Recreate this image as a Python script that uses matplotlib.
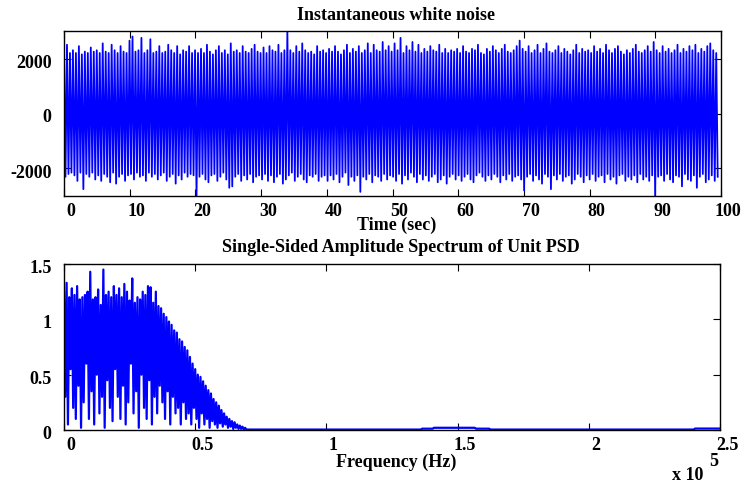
import numpy as np
import matplotlib
matplotlib.use("Agg")
import matplotlib.pyplot as plt
import matplotlib.transforms as mtransforms

# turning points of the noise trace, upper and lower swings (10 s per row)
noise_high = [
    2250, 2500, 2200, 2300, 2200, 2450, 2150, 2250, 2200, 2400, 2250, 2300, 2200, 2550, 2250, 2200, 2500, 2300, 2200, 2450, 2250, 2200,
    2650, 2800, 2250, 2300, 2750, 2200, 2300, 2700, 2200, 2250, 2450, 2200, 2250, 2500, 2300, 2200, 2450, 2150, 2300, 2250, 2450, 2200,
    2300, 2200, 2350, 2200, 2500, 2250, 2150, 2300, 2450, 2200, 2300, 2150, 2550, 2250, 2300, 2200, 2450, 2250, 2200, 2350, 2500, 2250,
    2200, 2400, 2200, 2450, 2300, 2250, 2500, 2200, 2300, 3000, 2300, 2200, 2450, 2250, 2550, 2300, 2200, 2250, 2150, 2450, 2250, 2300,
    2200, 2350, 2250, 2450, 2250, 2150, 2300, 2500, 2200, 2350, 2250, 2450, 2200, 2300, 2550, 2200, 2500, 2300, 2250, 2600, 2300, 2450,
    2250, 2550, 2300, 2750, 2200, 2450, 2300, 2600, 2250, 2500, 2200, 2350, 2250, 2450, 2300, 2250, 2500, 2200, 2350, 2200, 2300, 2250,
    2350, 2200, 2450, 2250, 2200, 2350, 2300, 2500, 2200, 2150, 2350, 2250, 2450, 2300, 2200, 2350, 2500, 2250, 2200, 2300, 2450, 2650,
    2350, 2250, 2450, 2200, 2300, 2500, 2200, 2350, 2550, 2250, 2200, 2300, 2450, 2200, 2350, 2250, 2150, 2300, 2500, 2200, 2350, 2250,
    2300, 2200, 2450, 2250, 2350, 2200, 2500, 2300, 2200, 2350, 2450, 2250, 2150, 2300, 2200, 2350, 2500, 2250, 2200, 2300, 2450, 2250,
    2600, 2300, 2200, 2450, 2250, 2350, 2200, 2300, 2500, 2200, 2350, 2250, 2450, 2300, 2500, 2200, 2350, 2250, 2450, 2550, 2300, 2200,
]
noise_low = [
    -2300, -2200, -2150, -2250, -2450, -2150, -2750, -2200, -2300, -2150, -2400, -2250, -2450, -2200, -2300, -2500, -2150, -2550, -2300, -2200, -2450, -2250,
    -2200, -2400, -2150, -2300, -2250, -2450, -2150, -2300, -2200, -2400, -2250, -2150, -2450, -2300, -2200, -2550, -2250, -2400, -2150, -2300, -2200, -2250,
    -3000, -2300, -2200, -2400, -2500, -2250, -2200, -2450, -2300, -2150, -2400, -2700, -2650, -2300, -2200, -2450, -2250, -2400, -2200, -2500, -2300, -2250,
    -2400, -2200, -2450, -2250, -2500, -2300, -2200, -2550, -2400, -2250, -2150, -2450, -2300, -2200, -2400, -2500, -2250, -2300, -2200, -2450, -2300, -2250,
    -2450, -2250, -2400, -2200, -2500, -2300, -2150, -2600, -2300, -2450, -2250, -2850, -2300, -2400, -2200, -2500, -2250, -2300, -2450, -2200, -2400, -2250,
    -2300, -2450, -2200, -2550, -2250, -2400, -2150, -2300, -2500, -2200, -2400, -2250, -2450, -2300, -2200, -2500, -2400, -2250, -2550, -2300, -2200, -2400,
    -2250, -2450, -2300, -2200, -2400, -2500, -2250, -2150, -2300, -2450, -2250, -2400, -2200, -2300, -2500, -2250, -2400, -2200, -2450, -2300, -2250, -2400,
    -2800, -2300, -2200, -2450, -2250, -2400, -2550, -2200, -2300, -2750, -2250, -2400, -2200, -2450, -2300, -2250, -2550, -2400, -2200, -2300, -2500, -2250,
    -2400, -2200, -2450, -2300, -2250, -2500, -2200, -2400, -2300, -2550, -2250, -2200, -2450, -2300, -2400, -2250, -2500, -2200, -2400, -2300, -2450, -2250,
    -3000, -2300, -2250, -2450, -2200, -2400, -2500, -2250, -2300, -2650, -2200, -2400, -2450, -2250, -2700, -2300, -2200, -2500, -2400, -2250, -2450, -2300,
]

# spectrum 0..69 kHz: peak and dip of each 1 kHz bin
spec_peaks = [
    1.25, 1.33, 1.20, 1.28, 1.22, 1.30, 1.18, 1.20, 1.22, 1.25,
    1.43, 1.18, 1.20, 1.27, 1.13, 1.45, 1.22, 1.25, 1.20, 1.30,
    1.22, 1.28, 1.20, 1.32, 1.25, 1.17, 1.37, 1.15, 1.20, 1.18,
    1.25, 1.22, 1.30, 1.29, 1.15, 1.25, 1.12,
    1.10, 1.05, 1.02, 0.98, 0.95, 0.90, 0.88, 0.82, 0.80, 0.75,
    0.72, 0.66, 0.60, 0.55, 0.50, 0.48, 0.44, 0.40, 0.36, 0.33,
    0.28, 0.25, 0.22, 0.18, 0.15, 0.12, 0.10, 0.08, 0.07, 0.05,
    0.04, 0.03, 0.02,
]
spec_dips = [
    0.30, 0.05, 0.55, 0.20, 0.10, 0.40, 0.02, 0.25, 0.60, 0.10,
    0.35, 0.05, 0.50, 0.15, 0.30, 0.02, 0.45, 0.20, 0.08, 0.55,
    0.30, 0.10, 0.40, 0.05, 0.25, 0.60, 0.15, 0.35, 0.02, 0.50,
    0.20, 0.10, 0.45, 0.05, 0.30, 0.15, 0.40,
    0.25, 0.10, 0.35, 0.05, 0.30, 0.15, 0.20, 0.05, 0.25, 0.10,
    0.15, 0.05, 0.20, 0.10, 0.02, 0.15, 0.05, 0.10, 0.02, 0.08,
    0.05, 0.02, 0.06, 0.03, 0.05, 0.02, 0.03, 0.01, 0.02, 0.01,
    0.01, 0.005, 0.005,
]
# high-frequency floor with the small bumps
tail_freq = [70000, 136000, 136500, 140500, 141000, 156500, 157000, 162000, 162500, 240000, 240500, 250000]
tail_amp = [0.004, 0.004, 0.012, 0.012, 0.02, 0.02, 0.012, 0.012, 0.004, 0.004, 0.013, 0.013]

plt.rcParams['font.family'] = ['Liberation Serif', 'DejaVu Serif']
plt.rcParams['font.weight'] = 'bold'
plt.rcParams['font.size'] = 13
plt.rcParams['axes.unicode_minus'] = False

W, H = 746, 484
fig = plt.figure(figsize=(W / 100, H / 100), dpi=100)


def px_axes(x0, y0, x1, y1):
    return fig.add_axes([x0 / W, 1 - y1 / H, (x1 - x0) / W, (y1 - y0) / H])


def matlab_style(ax):
    ax.tick_params(direction='in', top=True, right=True, length=5, width=0.8)
    ax.tick_params(axis='x', pad=5)
    ax.tick_params(axis='y', pad=9)
    for s in ax.spines.values():
        s.set_linewidth(1.0)
    # tick labels sit a bit right / low like the matlab export
    dx = mtransforms.ScaledTranslation(7 / 100, 0, fig.dpi_scale_trans)
    dy = mtransforms.ScaledTranslation(0, -2.5 / 100, fig.dpi_scale_trans)
    for lab in ax.get_xticklabels():
        lab.set_transform(lab.get_transform() + dx)
    for lab in ax.get_yticklabels():
        lab.set_transform(lab.get_transform() + dy)


# top: time trace
sig = np.empty(len(noise_high) + len(noise_low))
sig[0::2] = noise_high
sig[1::2] = noise_low
t = np.linspace(0, 99.5, len(sig))

ax1 = px_axes(64, 31, 721, 196)
ax1.plot(t, sig, color='#0000ff', lw=1.3)
ax1.set_xlim(0, 100)
ax1.set_ylim(-3000, 3000)
ax1.set_xticks(np.arange(0, 101, 10))
ax1.set_yticks([-2000, 0, 2000])
matlab_style(ax1)

# bottom: amplitude spectrum
spec = np.empty(len(spec_peaks) + len(spec_dips))
spec[0::2] = spec_peaks
spec[1::2] = spec_dips
f = np.linspace(0, 69500, len(spec))
f = np.concatenate([f, tail_freq])
spec = np.concatenate([spec, tail_amp])

ax2 = px_axes(64, 264, 720, 430)
ax2.plot(f, spec, color='#0000ff', lw=1.6)
ax2.set_xlim(0, 2.5e5)
ax2.set_ylim(0, 1.5)
ax2.set_xticks([0, 0.5e5, 1e5, 1.5e5, 2e5, 2.5e5])
ax2.set_xticklabels(['0', '0.5', '1', '1.5', '2', '2.5'])
ax2.set_yticks([0, 0.5, 1, 1.5])
ax2.set_yticklabels(['0', '0.5', '1', '1.5'])
matlab_style(ax2)


def px_text(x, y, s, **kw):
    fig.text(x / W, 1 - y / H, s, ha='center', va='center', fontweight='bold', **kw)


px_text(396, 15, 'Instantaneous white noise')
px_text(397, 225, 'Time (sec)')
px_text(401, 247, 'Single-Sided Amplitude Spectrum of Unit PSD')
px_text(396, 462, 'Frequency (Hz)')
px_text(688, 475, 'x 10')
px_text(714, 462, '5')

fig.savefig('out.png', dpi=100)
